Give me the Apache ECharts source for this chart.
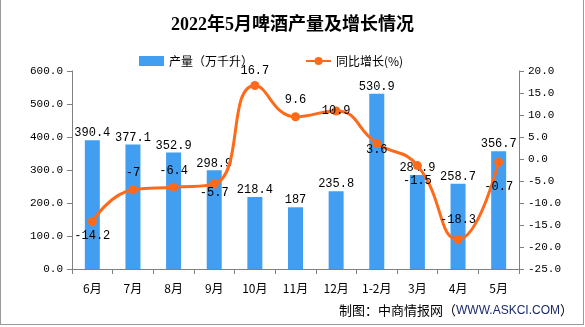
<!DOCTYPE html>
<html><head><meta charset="utf-8">
<script src="https://cdn.jsdelivr.net/npm/echarts@6/dist/echarts.min.js"></script>
<style>html,body{margin:0;padding:0;background:#fff}
#frame{position:absolute;left:0;top:0;width:582px;height:324px;border:1px solid #9a9a9a;border-top:none;}
#c{position:absolute;left:0;top:0;width:585px;height:327px}</style>
</head><body><div id="frame"></div><div id="c"></div>
<script>
const categories = ['6月','7月','8月','9月','10月','11月','12月','1-2月','3月','4月','5月'];
const output = [390.4, 377.1, 352.9, 298.9, 218.4, 187, 235.8, 530.9, 284.9, 258.7, 356.7];
const growth = [-14.2, -7, -6.4, -5.7, 16.7, 9.6, 10.9, 3.6, -1.5, -18.3, -0.7];
const leftTicks = [0, 100, 200, 300, 400, 500, 600];
const rightTicks = [-25, -20, -15, -10, -5, 0, 5, 10, 15, 20];

const labelPos = ['bottom','top','top','bottom','top','top','inside','bottom','bottom','top','bottom'];
const labelDist = [4, 6, 6, -2, 4, 6, 0, -4, 5, 9, 14];
const mono = 'Liberation Mono, DejaVu Sans Mono, monospace';

const chart = echarts.init(document.getElementById('c'));
chart.setOption({
  animation: false,
  title: {
    text: '2022年5月啤酒产量及增长情况', left: 'center', top: 11,
    textStyle: {fontFamily: 'Liberation Serif, Noto Sans CJK SC', fontWeight: 'bold', fontSize: 18, color: '#000'}
  },
  legend: {
    top: 50, left: 134, itemGap: 52, itemWidth: 25, itemHeight: 10,
    textStyle: {fontFamily: 'Noto Sans CJK SC', fontSize: 12, color: '#000'},
    data: [{name: '产量（万千升）', icon: 'rect'}, {name: '同比增长(%)'}]
  },
  grid: {left: 72, right: 66, top: 71, bottom: 58},
  xAxis: {
    type: 'category', data: categories,
    axisLine: {lineStyle: {color: '#808080'}},
    axisTick: {show: true, alignWithLabel: false, length: 5, lineStyle: {color: '#808080'}},
    axisLabel: {margin: 13, color: '#000', fontSize: 12, fontFamily: 'Noto Sans CJK SC'}
  },
  yAxis: [{
    type: 'value', min: leftTicks[0], max: leftTicks[leftTicks.length-1], interval: 100,
    axisLine: {show: true, lineStyle: {color: '#808080'}},
    axisTick: {show: true, length: 5, lineStyle: {color: '#808080'}},
    splitLine: {show: false},
    axisLabel: {color: '#000', fontSize: 11, fontFamily: mono, formatter: v => v.toFixed(1), margin: 9}
  }, {
    type: 'value', min: rightTicks[0], max: rightTicks[rightTicks.length-1], interval: 5,
    axisLine: {show: true, lineStyle: {color: '#808080'}},
    axisTick: {show: true, length: 5, lineStyle: {color: '#808080'}},
    splitLine: {show: false},
    axisLabel: {color: '#000', fontSize: 11, fontFamily: mono, formatter: v => v.toFixed(1), margin: 9}
  }],
  graphic: [{
    type: 'text', right: 12, top: 304,
    style: {
      text: '{a|制图：中商情报网（}{b|WWW.ASKCI.COM}{a|）}',
      rich: {
        a: {fontFamily: 'Noto Sans CJK SC', fontSize: 13, fill: '#000'},
        b: {fontFamily: 'Liberation Sans', fontSize: 12, fill: '#1a2a6c'}
      }
    }
  }],
  series: [{
    name: '产量（万千升）', type: 'bar', yAxisIndex: 0, data: output, barWidth: 15,
    itemStyle: {color: '#419EF0'},
    label: {show: true, position: 'top', distance: 1, color: '#000', fontSize: 12, fontFamily: mono}
  }, {
    name: '同比增长(%)', type: 'line', yAxisIndex: 1, smooth: true, z: 5,
    symbol: 'circle', symbolSize: 9,
    lineStyle: {color: '#FF6A1A', width: 3},
    itemStyle: {color: '#FF6A1A'},
    data: growth.map((v, i) => ({
      value: v,
      label: {show: true, position: labelPos[i], distance: labelDist[i], color: '#000', fontSize: 12, fontFamily: mono}
    }))
  }]
});
</script></body></html>
